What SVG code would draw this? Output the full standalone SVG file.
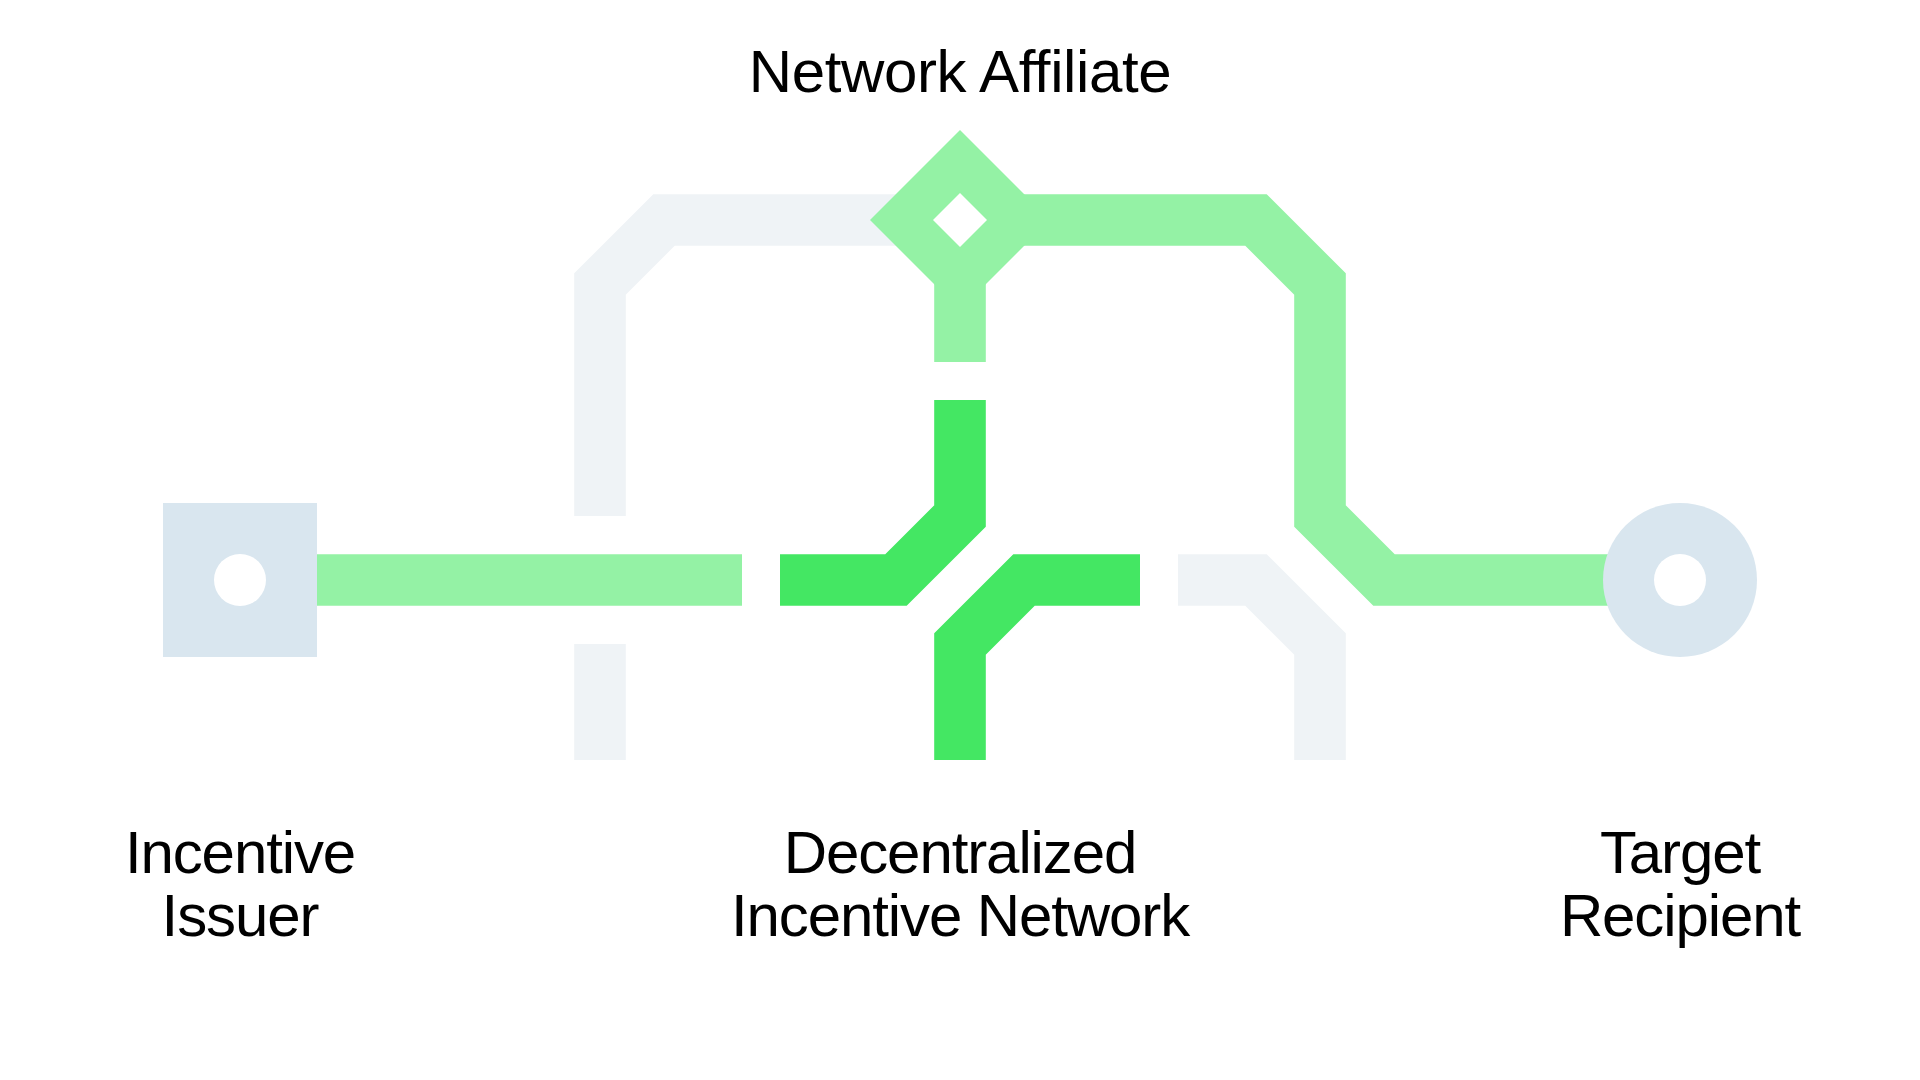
<svg xmlns="http://www.w3.org/2000/svg" width="1920" height="1080" viewBox="0 0 1920 1080">
  <style>
    .ln { fill: none; stroke-width: 51.6; stroke-linejoin: miter; stroke-linecap: butt; }
    .gray { stroke: #EFF3F6; }
    .lg { stroke: #94F2A5; }
    .dg { stroke: #44E763; }
    .node { fill: #D9E6EF; }
    .hole { fill: #FFFFFF; }
    .lbl { font-family: "Liberation Sans", Arial, sans-serif; font-size: 60px; fill: #000000; text-anchor: middle; letter-spacing: -1.1px; }
    .top { letter-spacing: -0.4px; }
  </style>
  <rect x="0" y="0" width="1920" height="1080" fill="#FFFFFF"/>
  <g id="connectors">
    <path class="ln gray" d="M600,516 V284 L664,220 H960"/>
    <path class="ln gray" d="M600,644 V760"/>
    <path class="ln gray" d="M1178,580 H1256 L1320,644 V760"/>
    <path class="ln lg" d="M317,580 H742"/>
    <path class="ln lg" d="M960,220 H1256 L1320,284 V516 L1384,580 H1680"/>
    <path class="ln lg" d="M960,220 V362"/>
    <path class="ln dg" d="M960,400 V516 L896,580 H780"/>
    <path class="ln dg" d="M1140,580 H1024 L960,644 V760"/>
  </g>
  <g id="network-affiliate">
    <path fill="#94F2A5" d="M960,130 L1050,220 L960,310 L870,220 Z"/>
    <path class="hole" d="M960,193 L987,220 L960,247 L933,220 Z"/>
    <text class="lbl top" x="960" y="92">Network Affiliate</text>
  </g>
  <g id="incentive-issuer">
    <rect class="node" x="163" y="503" width="154" height="154"/>
    <circle class="hole" cx="240" cy="580" r="26"/>
    <text class="lbl" x="240" y="873">Incentive</text>
    <text class="lbl" x="240" y="936">Issuer</text>
  </g>
  <g id="decentralized-incentive-network">
    <text class="lbl" x="960" y="873">Decentralized</text>
    <text class="lbl" x="960" y="936">Incentive Network</text>
  </g>
  <g id="target-recipient">
    <circle class="node" cx="1680" cy="580" r="77"/>
    <circle class="hole" cx="1680" cy="580" r="26"/>
    <text class="lbl" x="1680" y="873">Target</text>
    <text class="lbl" x="1680" y="936">Recipient</text>
  </g>
</svg>
